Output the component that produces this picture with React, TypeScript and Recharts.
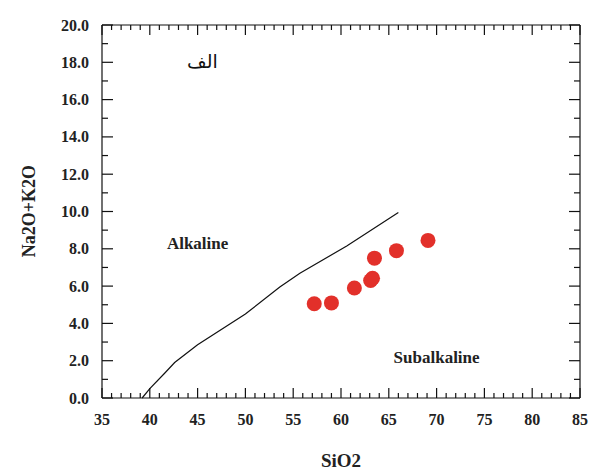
import { ReferenceLine, Scatter, ScatterChart, XAxis, YAxis } from "recharts";

// TAS-style diagram, Irvine & Baragar boundary
const samples = [
  { x: 57.2, y: 5.05 },
  { x: 59.0, y: 5.1 },
  { x: 61.4, y: 5.9 },
  { x: 63.1, y: 6.3 },
  { x: 63.3, y: 6.42 },
  { x: 63.5, y: 7.5 },
  { x: 65.8, y: 7.9 },
  { x: 69.1, y: 8.45 },
];

const boundary = [
  { x: 39.2, y: 0 },
  { x: 40, y: 0.5 },
  { x: 41.5, y: 1.3 },
  { x: 42.6, y: 1.9 },
  { x: 45, y: 2.85 },
  { x: 50, y: 4.5 },
  { x: 53.6, y: 5.95 },
  { x: 55.7, y: 6.69 },
  { x: 60.6, y: 8.15 },
  { x: 66, y: 9.95 },
];

const fieldLabels = [
  { x: 45, y: 8.26, text: "Alkaline" },
  { x: 70, y: 2.17, text: "Subalkaline" },
];
const panelLabel = [{ x: 45.5, y: 18.07, text: "الف" }];

const xTicks = Array.from({ length: 51 }, (_, i) => 35 + i);
const yTicks = Array.from({ length: 21 }, (_, i) => i);
const xLabels = xTicks.filter((v) => v % 5 === 0);
const yLabels = yTicks.filter((v) => v % 2 === 0);

// tick marks drawn inward along the frame
const bottomMarks = xTicks.map((v) => ({ x: v, y: 0, major: v % 5 === 0 }));
const topMarks = xTicks.map((v) => ({ x: v, y: 20, major: v % 5 === 0 }));
const leftMarks = yTicks.map((v) => ({ x: 35, y: v, major: v % 2 === 0 }));
const rightMarks = yTicks.map((v) => ({ x: 85, y: v, major: v % 2 === 0 }));

const serif = "'Liberation Serif', 'Times New Roman', serif";
const ink = "#222";
const frame = "#111";

const XLabel = (p: any) => (
  <text x={p.x} y={p.y + 27} textAnchor="middle" fontFamily={serif} fontWeight="bold" fontSize={16} fill={ink}>
    {p.payload.value}
  </text>
);

const YLabel = (p: any) => (
  <text x={p.x - 13} y={p.y} textAnchor="end" dominantBaseline="central" fontFamily={serif} fontWeight="bold" fontSize={16} fill={ink}>
    {Number(p.payload.value).toFixed(1)}
  </text>
);

const markShape = (dx: number, dy: number, majorLen: number, minorLen: number) => (p: any) => {
  const len = p.payload.major ? majorLen : minorLen;
  return <line x1={p.cx} y1={p.cy} x2={p.cx + dx * len} y2={p.cy + dy * len} stroke={frame} strokeWidth={1.2} />;
};

const FieldText = (p: any) => (
  <text x={p.cx} y={p.cy} textAnchor="middle" dominantBaseline="central" fontFamily={serif} fontWeight="bold" fontSize={17} fill={ink}>
    {p.payload.text}
  </text>
);

const PanelText = (p: any) => (
  <text x={p.cx} y={p.cy} textAnchor="middle" dominantBaseline="central" fontFamily="'DejaVu Sans', sans-serif" fontSize={19} fill="#111">
    {p.payload.text}
  </text>
);

const Dot = (p: any) => <circle cx={p.cx} cy={p.cy} r={7.5} fill="#e2302a" />;

export default function App() {
  return (
    <div style={{ position: "absolute", left: 0, top: 0, width: 589, height: 471, background: "#fff" }}>
      <ScatterChart width={589} height={471} margin={{ top: 25, right: 9, bottom: 0, left: 0 }}>
        <XAxis
          type="number"
          dataKey="x"
          domain={[35, 85]}
          ticks={xLabels}
          interval={0}
          height={73}
          tickSize={0}
          tickMargin={0}
          tickLine={false}
          tick={(p: any) => <XLabel {...p} />}
          axisLine={{ stroke: frame, strokeWidth: 1.2 }}
        />
        <YAxis
          type="number"
          dataKey="y"
          domain={[0, 20]}
          ticks={yLabels}
          interval={0}
          width={102}
          tickSize={0}
          tickMargin={0}
          tickLine={false}
          tick={(p: any) => <YLabel {...p} />}
          axisLine={{ stroke: frame, strokeWidth: 1.2 }}
        />
        <ReferenceLine y={20} stroke={frame} strokeWidth={1.2} />
        <ReferenceLine x={85} stroke={frame} strokeWidth={1.2} />
        <Scatter data={bottomMarks} shape={markShape(0, -1, 10, 5)} isAnimationActive={false} />
        <Scatter data={topMarks} shape={markShape(0, 1, 10, 5)} isAnimationActive={false} />
        <Scatter data={leftMarks} shape={markShape(1, 0, 11, 6)} isAnimationActive={false} />
        <Scatter data={rightMarks} shape={markShape(-1, 0, 11, 6)} isAnimationActive={false} />
        <Scatter
          data={boundary}
          line={{ stroke: "#111", strokeWidth: 1.2 }}
          lineType="joint"
          shape={() => <g />}
          isAnimationActive={false}
        />
        <Scatter data={samples} shape={<Dot />} isAnimationActive={false} />
        <Scatter data={fieldLabels} shape={<FieldText />} isAnimationActive={false} />
        <Scatter data={panelLabel} shape={<PanelText />} isAnimationActive={false} />
      </ScatterChart>
      <div
        style={{
          position: "absolute",
          left: 29,
          top: 211,
          transform: "translate(-50%, -50%) rotate(-90deg)",
          fontFamily: serif,
          fontWeight: "bold",
          fontSize: 18,
          color: ink,
          whiteSpace: "nowrap",
        }}
      >
        Na2O+K2O
      </div>
      <div
        style={{
          position: "absolute",
          left: 341,
          top: 460,
          transform: "translate(-50%, -50%)",
          fontFamily: serif,
          fontWeight: "bold",
          fontSize: 19,
          color: ink,
          whiteSpace: "nowrap",
          lineHeight: 1,
        }}
      >
        SiO2
      </div>
    </div>
  );
}
